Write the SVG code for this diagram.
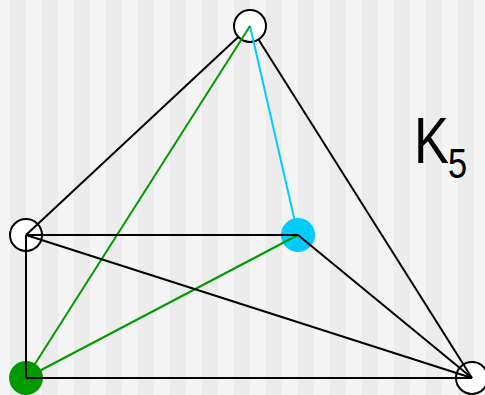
<svg xmlns="http://www.w3.org/2000/svg" width="485" height="395" viewBox="0 0 485 395">
<defs>
<pattern id="stripes" patternUnits="userSpaceOnUse" x="10" y="0" width="32" height="395">
<rect x="0" y="0" width="16" height="395" fill="#ececec"/>
<rect x="16" y="0" width="16" height="395" fill="#f4f4f4"/>
</pattern>
</defs>
<style>
.e{stroke:#000;stroke-width:2;fill:none}
.g{stroke:#009900;stroke-width:2;fill:none}
.c{stroke:#00ccff;stroke-width:2;fill:none}
.w{fill:#fff;stroke:#000;stroke-width:2}
.lbl{font-family:"Liberation Sans",Arial,sans-serif;fill:#000}
</style>
<rect width="485" height="395" fill="url(#stripes)"/>
<g id="n-left"><circle class="w" cx="26" cy="235" r="16"/></g>
<g id="n-green"><circle cx="26" cy="378" r="17" fill="#009900"/></g>
<g id="n-br"><circle class="w" cx="472" cy="378" r="16"/></g>
<g id="edges-under">
<line class="e" x1="250" y1="26" x2="26" y2="235"/>
<line class="e" x1="250" y1="26" x2="472" y2="378"/>
</g>
<g id="n-top"><circle class="w" cx="250" cy="26" r="16"/></g>
<g id="edges-cyan">
<line class="c" x1="250" y1="26" x2="298" y2="235"/>
</g>
<g id="n-blue"><circle cx="298" cy="235" r="17" fill="#00ccff"/></g>
<g id="edges">
<line class="g" x1="250" y1="26" x2="26" y2="378"/>
<line class="g" x1="298" y1="235" x2="26" y2="378"/>
<line class="e" x1="26" y1="235" x2="298" y2="235"/>
<line class="e" x1="26" y1="235" x2="26" y2="378"/>
<line class="e" x1="26" y1="235" x2="472" y2="378"/>
<line class="e" x1="298" y1="235" x2="472" y2="378"/>
<line class="e" x1="26" y1="378" x2="472" y2="378"/>
</g>
<g id="label">
<text class="lbl" transform="translate(414,163) scale(0.82,1)" font-size="64">K</text>
<text class="lbl" transform="translate(448,178) scale(0.82,1)" font-size="42">5</text>
</g>
</svg>
